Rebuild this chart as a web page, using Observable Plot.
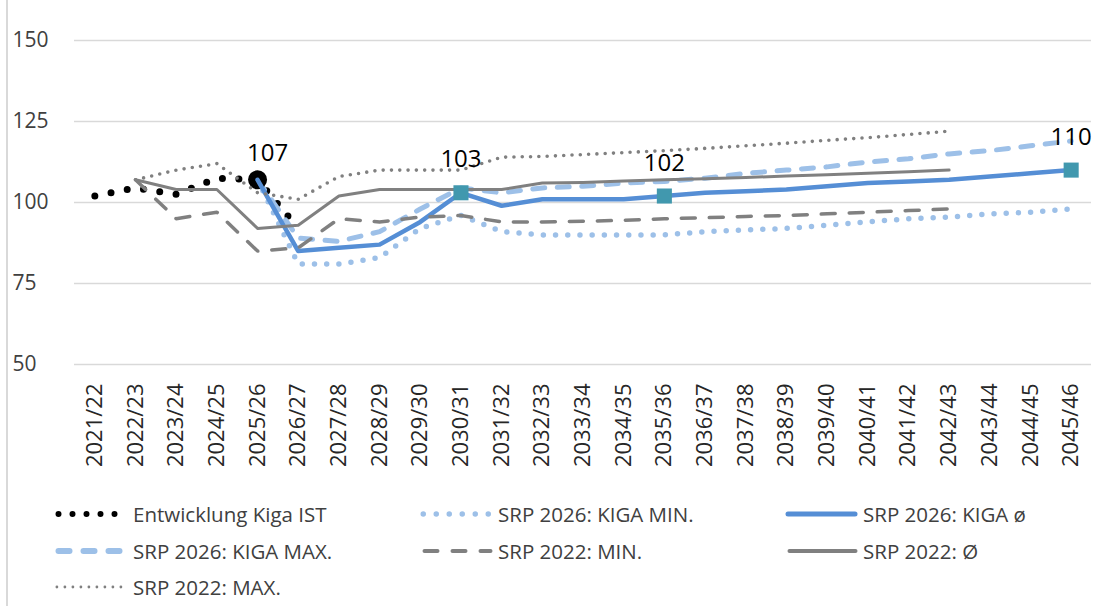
<!DOCTYPE html>
<html><head><meta charset="utf-8">
<script src="https://cdn.jsdelivr.net/npm/d3@7"></script>
<script src="https://cdn.jsdelivr.net/npm/@observablehq/plot@0.6"></script>
<style>
body{margin:0;background:#fff;font-family:"Open Sans",sans-serif;}
#wrap{position:relative;width:1094px;height:606px;overflow:hidden;background:#fff;}
#chart{position:absolute;left:0;top:0;}
#border{position:absolute;left:6px;top:0;width:1.5px;height:606px;background:#d9d9d9;}
#legend{position:absolute;left:0;top:490px;width:1094px;height:116px;}
.item{position:absolute;display:flex;align-items:center;font-size:20.5px;color:#404040;white-space:nowrap;height:30px;}
.item svg{display:block;}
</style></head><body>
<div id="wrap"><div id="chart"></div><div id="legend"></div><div id="border"></div></div>
<script>
const years = ["2021/22","2022/23","2023/24","2024/25","2025/26","2026/27","2027/28","2028/29","2029/30","2030/31","2031/32","2032/33","2033/34","2034/35","2035/36","2036/37","2037/38","2038/39","2039/40","2040/41","2041/42","2042/43","2043/44","2044/45","2045/46"];
const yTicks = [50, 75, 100, 125, 150];

const ist     = [102, 104.5, 102.5, 107.5, 107, 92, null, null, null, null, null, null, null, null, null, null, null, null, null, null, null, null, null, null, null];
const min2026 = [null, null, null, null, 107, 81, 81, 83, 92, 96, 91, 90, 90, 90, 90, 91, 91.5, 92, 93, 94, 95, 95.5, 96.5, 97, 98];
const avg2026 = [null, null, null, null, 107, 85, 86, 87, 94, 103, 99, 101, 101, 101, 102, 103, 103.5, 104, 105, 106, 106.5, 107, 108, 109, 110];
const max2026 = [null, null, null, null, 107, 89, 88, 91, 98, 104.5, 103, 104.5, 105, 106, 106.5, 107.5, 109, 110, 111, 112.5, 113.5, 115, 116, 117.5, 119];
const min2022 = [null, 107, 95, 97, 85, 86, 95, 94, 95.5, 96, 94, 94, 94.2, 94.5, 95, 95.3, 95.7, 96, 96.5, 97, 97.5, 98, null, null, null];
const avg2022 = [null, 107, 104, 104, 92, 93, 102, 104, 104, 104, 104, 106, 106.2, 106.6, 107, 107.3, 107.7, 108.2, 108.6, 109, 109.5, 110, null, null, null];
const max2022 = [null, 107, 110, 112, 103, 101, 108, 110, 110, 110, 114, 114.2, 114.8, 115.4, 116, 116.7, 117.5, 118.3, 119.2, 120, 121, 122, null, null, null];

const seriesNames = ["Entwicklung Kiga IST", "SRP 2026: KIGA MIN.", "SRP 2026: KIGA ø", "SRP 2026: KIGA MAX.", "SRP 2022: MIN.", "SRP 2022: Ø", "SRP 2022: MAX."];
const circleYears = ["2025/26"];
const squareYears = ["2030/31", "2035/36", "2045/46"];

const rows = (vals) => years.map((y, i) => ({year: y, v: vals[i]})).filter(d => d.v != null);

const styles = [
  {vals: ist,     stroke: "#000000", w: 7,   dash: "0,16.5"},
  {vals: min2026, stroke: "#9DC0E8", w: 5.5, dash: "0,12.2"},
  {vals: avg2026, stroke: "#558ED5", w: 4.5, dash: null},
  {vals: max2026, stroke: "#9DC0E8", w: 5,   dash: "12,12.5"},
  {vals: min2022, stroke: "#808080", w: 3.5, dash: "14,14"},
  {vals: avg2022, stroke: "#808080", w: 3,   dash: null},
  {vals: max2022, stroke: "#808080", w: 3.6, dash: "0,8.3"}
];

const lineMark = (s) => Plot.line(rows(s.vals), {
  x: "year", y: "v", stroke: s.stroke, strokeWidth: s.w,
  strokeDasharray: s.dash || undefined, strokeLinecap: "round", strokeLinejoin: "round"
});

const circleData = rows(ist).filter(d => circleYears.includes(d.year));
const squareData = rows(avg2026).filter(d => squareYears.includes(d.year));

const chart = Plot.plot({
  width: 1094, height: 490,
  marginLeft: 74, marginRight: 3, marginTop: 40, marginBottom: 126,
  style: {fontFamily: "Open Sans, sans-serif", color: "#404040", background: "#fff", overflow: "visible"},
  x: {type: "point", domain: years, padding: 0.5, round: false, label: null},
  y: {domain: [50, 150], label: null},
  marks: [
    Plot.gridY(yTicks, {stroke: "#d9d9d9", strokeOpacity: 1, strokeWidth: 1.6}),
    Plot.axisY(yTicks, {tickSize: 0, tickPadding: 0, textAnchor: "start", dx: -62, fontSize: 21, fill: "#404040", label: null}),
    Plot.axisX({tickSize: 0, tickPadding: 19, tickRotate: -90, fontSize: 22, fill: "#262626", label: null}),
    lineMark(styles[0]),
    lineMark(styles[1]),
    lineMark(styles[3]),
    Plot.dot(circleData, {x: "year", y: "v", r: 9.5, fill: "#000"}),
    lineMark(styles[2]),
    lineMark(styles[4]),
    lineMark(styles[5]),
    lineMark(styles[6]),
    Plot.dot(squareData, {x: "year", y: "v", symbol: "square", r: 8.5, fill: "#4198AE"}),
    Plot.text(circleData, {x: "year", y: "v", text: d => String(d.v), dy: -27, dx: 10, fontSize: 24, fill: "#000"}),
    Plot.text(squareData, {x: "year", y: "v", text: d => String(d.v), dy: -33, fontSize: 24, fill: "#000"})
  ]
});
document.getElementById("chart").appendChild(chart);

// Legend
const legendPos = [
  {sx: 55,  tx: 133, row: 0},
  {sx: 420, tx: 498, row: 0},
  {sx: 785, tx: 863, row: 0},
  {sx: 55,  tx: 133, row: 1},
  {sx: 422, tx: 498, row: 1},
  {sx: 787, tx: 863, row: 1},
  {sx: 55,  tx: 133, row: 2}
];
const legendStyle = [
  {w: 6,   dash: "0,14"},
  {w: 5.5, dash: "0,13"},
  {w: 5,   dash: null},
  {w: 6,   dash: "11,14"},
  {w: 4,   dash: "13,15"},
  {w: 4,   dash: null},
  {w: 2.8, dash: "0,8"}
];
const rowY = [24, 61, 97];
const legend = document.getElementById("legend");
seriesNames.forEach((name, i) => {
  const p = legendPos[i], ls = legendStyle[i], s = styles[i];
  const sw = p.tx - p.sx - 5;
  const div = document.createElement("div");
  div.className = "item";
  div.style.left = p.sx + "px";
  div.style.top = (rowY[p.row] - 15) + "px";
  const ns = "http://www.w3.org/2000/svg";
  const svg = document.createElementNS(ns, "svg");
  svg.setAttribute("width", sw + 5);
  svg.setAttribute("height", 30);
  const line = document.createElementNS(ns, "line");
  const pad = ls.w / 2 + 0.5;
  line.setAttribute("x1", pad);
  line.setAttribute("x2", sw - pad + 0.01);
  line.setAttribute("y1", 15);
  line.setAttribute("y2", 15);
  line.setAttribute("stroke", s.stroke);
  line.setAttribute("stroke-width", ls.w);
  line.setAttribute("stroke-linecap", "round");
  if (ls.dash) line.setAttribute("stroke-dasharray", ls.dash);
  svg.appendChild(line);
  div.appendChild(svg);
  const span = document.createElement("span");
  span.textContent = name;
  div.appendChild(span);
  legend.appendChild(div);
});
</script>
</body></html>
